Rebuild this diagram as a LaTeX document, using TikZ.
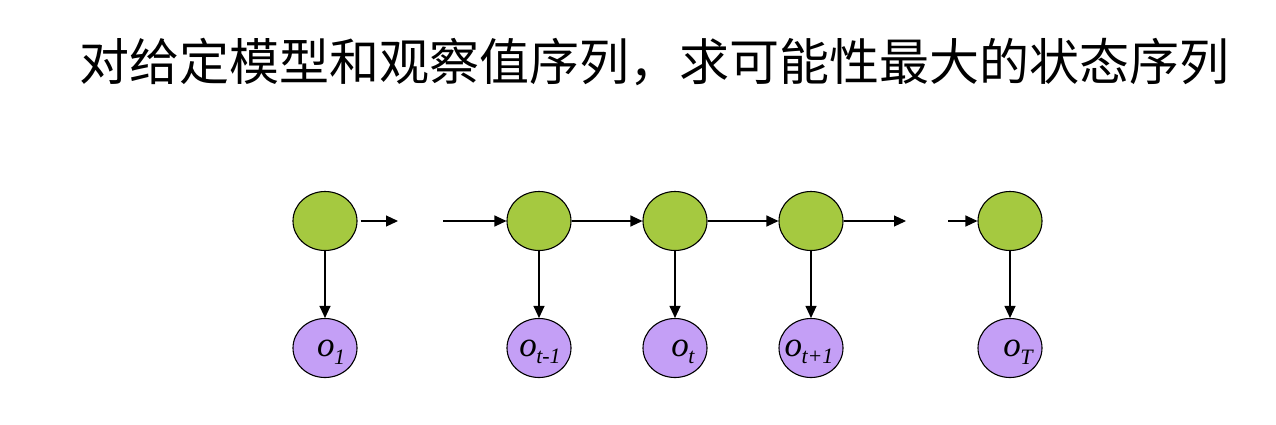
\documentclass[tikz,border=0pt]{standalone}
\usepackage{fontspec}
\setmainfont{Liberation Serif}
\newfontfamily\cjk{Noto Sans CJK SC}
\usetikzlibrary{shapes.geometric,arrows.meta}
\definecolor{stgreen}{HTML}{A5C940}
\definecolor{obpurple}{HTML}{C49FF6}
\tikzset{
  state/.style={ellipse,draw=black,line width=1.1pt,fill=stgreen,minimum width=64pt,minimum height=59pt,inner sep=0pt},
  obs/.style={ellipse,draw=black,line width=1.1pt,fill=obpurple,minimum width=64pt,minimum height=59pt,inner sep=0pt},
  lab/.style={inner sep=0pt,font=\fontsize{35}{35}\selectfont\itshape},
  conn/.style={line width=1.1pt,-{Triangle[length=12pt,width=11pt]}}
}
\newcommand{\obsl}[1]{o\kern-0.5pt\raisebox{-0.22em}{\fontsize{22}{22}\selectfont #1}}
\begin{document}
\begin{tikzpicture}[x=1pt,y=-1pt]
\useasboundingbox (0,0) rectangle (1276,424);
\node[inner sep=0pt,font=\cjk\fontsize{50}{50}\selectfont] (title) at (654,62) {对给定模型和观察值序列，求可能性最大的状态序列};
\node[state] (s1) at (325,221) {};
\node[state] (s2) at (539,221) {};
\node[state] (s3) at (675,221) {};
\node[state] (s4) at (811,221) {};
\node[state] (s5) at (1010,221) {};
\node[obs] (o1) at (325,348) {};
\node[obs] (o2) at (539,348) {};
\node[obs] (o3) at (675,348) {};
\node[obs] (o4) at (811,348) {};
\node[obs] (o5) at (1010,348) {};
\node[lab] (l1) at (331,352) {\obsl{1}};
\node[lab] (l2) at (540,352) {\obsl{t-1}};
\node[lab] (l3) at (683,352) {\obsl{t}};
\node[lab] (l4) at (809,352) {\obsl{t+1}};
\node[lab] (l5) at (1018,352) {\obsl{T}};
\coordinate (a1) at (398,221);
\coordinate (b2) at (443,221);
\coordinate (a4) at (906,221);
\coordinate (b5) at (948,221);
\draw[conn] ([xshift=3pt]s1.east) -- (a1);
\draw[conn] (b2) -- (s2);
\draw[conn] (s2) -- (s3);
\draw[conn] (s3) -- (s4);
\draw[conn] (s4) -- (a4);
\draw[conn] (b5) -- (s5);
\foreach \i in {1,...,5}{\draw[conn] (s\i) -- (o\i);}
\end{tikzpicture}
\end{document}
